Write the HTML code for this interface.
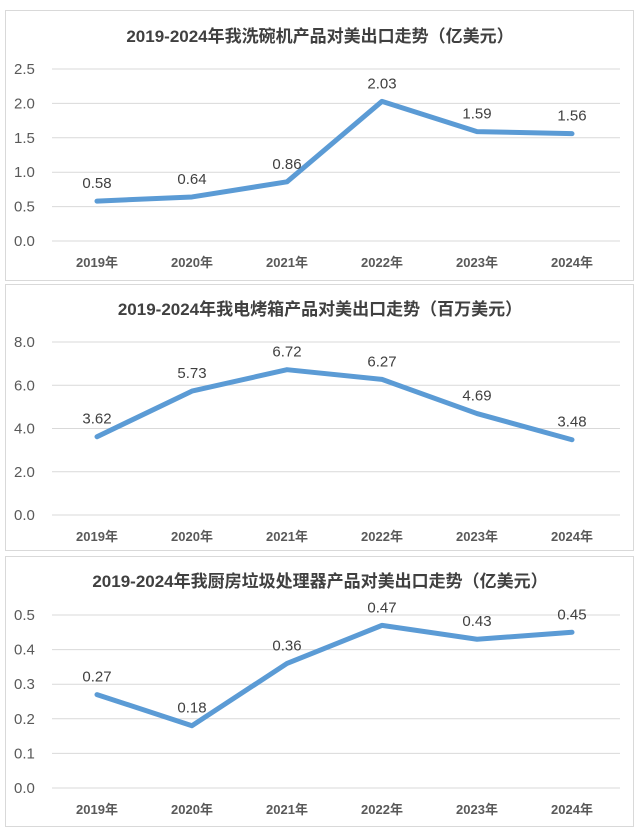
<!DOCTYPE html>
<html><head><meta charset="utf-8">
<style>
html,body{margin:0;padding:0;background:#fff;}
body{width:640px;height:835px;overflow:hidden;font-family:"Liberation Sans","Noto Sans CJK SC",sans-serif;}
svg text{font-family:"Liberation Sans","Noto Sans CJK SC",sans-serif;}
</style></head>
<body>
<svg id="chart" width="640" height="835" viewBox="0 0 640 835" xmlns="http://www.w3.org/2000/svg"></svg>
<script>
const categories = ["2019年","2020年","2021年","2022年","2023年","2024年"];
const dishwasherValues = [0.58,0.64,0.86,2.03,1.59,1.56];
const ovenValues = [3.62,5.73,6.72,6.27,4.69,3.48];
const disposerValues = [0.27,0.18,0.36,0.47,0.43,0.45];
const dishwasherTicks = ["0.0","0.5","1.0","1.5","2.0","2.5"];
const ovenTicks = ["0.0","2.0","4.0","6.0","8.0"];
const disposerTicks = ["0.0","0.1","0.2","0.3","0.4","0.5"];
const titles = ["2019-2024年我洗碗机产品对美出口走势（亿美元）","2019-2024年我电烤箱产品对美出口走势（百万美元）","2019-2024年我厨房垃圾处理器产品对美出口走势（亿美元）"];

const NS="http://www.w3.org/2000/svg";
const svg=document.getElementById('chart');
function mk(tag,attrs,parent){const e=document.createElementNS(NS,tag);for(const k in attrs)e.setAttribute(k,attrs[k]);(parent||svg).appendChild(e);return e;}

function panel(cfg){
  const g=mk('g',{});
  
  
  const box=mk('rect',{x:5.5,y:cfg.top+0.5,width:628,height:cfg.h,fill:'#fff',stroke:'#d9d9d9','stroke-width':1},g);
  
  
  const t=mk('text',{x:320,y:cfg.titleY,'text-anchor':'middle','font-size':17,'font-weight':'bold',fill:'#404040'},g);
  t.textContent=cfg.title;
  
  
  const ticks=cfg.ticks;
  const tmax=parseFloat(ticks[ticks.length-1]);
  const yScale=v=>cfg.y0-(v/tmax)*(cfg.y0-cfg.yTop);
  const xScale=i=>97+i*95;
  ticks.forEach(tk=>{
    const v=parseFloat(tk);const y=yScale(v);
    const l=mk('line',{x1:52,x2:620,y1:y,y2:y,stroke:'#d9d9d9','stroke-width':1},g);
    
    
    const tt=mk('text',{x:14,y:y+5,'font-size':15,fill:'#595959'},g);
    tt.textContent=tk;
    
    
  });
  categories.forEach((c,i)=>{
    const tt=mk('text',{x:xScale(i),y:cfg.y0+26,'text-anchor':'middle','font-size':13,'font-weight':'bold',fill:'#595959'},g);
    tt.textContent=c;
    
    
  });
  const pts=cfg.values.map((v,i)=>xScale(i)+','+yScale(v)).join(' ');
  const pl=mk('polyline',{points:pts,fill:'none',stroke:'#5b9bd5','stroke-width':5,'stroke-linejoin':'round','stroke-linecap':'round'},g);
  
  
  cfg.values.forEach((v,i)=>{
    const tt=mk('text',{x:xScale(i),y:yScale(v)-13,'text-anchor':'middle','font-size':15,fill:'#404040'},g);
    tt.textContent=v.toFixed(2);
    
    
  });
}
panel({name:'dishwasher-chart',top:10,h:270,titleY:42,title:titles[0],ticks:dishwasherTicks,values:dishwasherValues,y0:241,yTop:69});
panel({name:'oven-chart',top:284,h:266,titleY:315,title:titles[1],ticks:ovenTicks,values:ovenValues,y0:515,yTop:342});
panel({name:'disposer-chart',top:556,h:270,titleY:587,title:titles[2],ticks:disposerTicks,values:disposerValues,y0:788,yTop:615});
</script>
</body></html>
